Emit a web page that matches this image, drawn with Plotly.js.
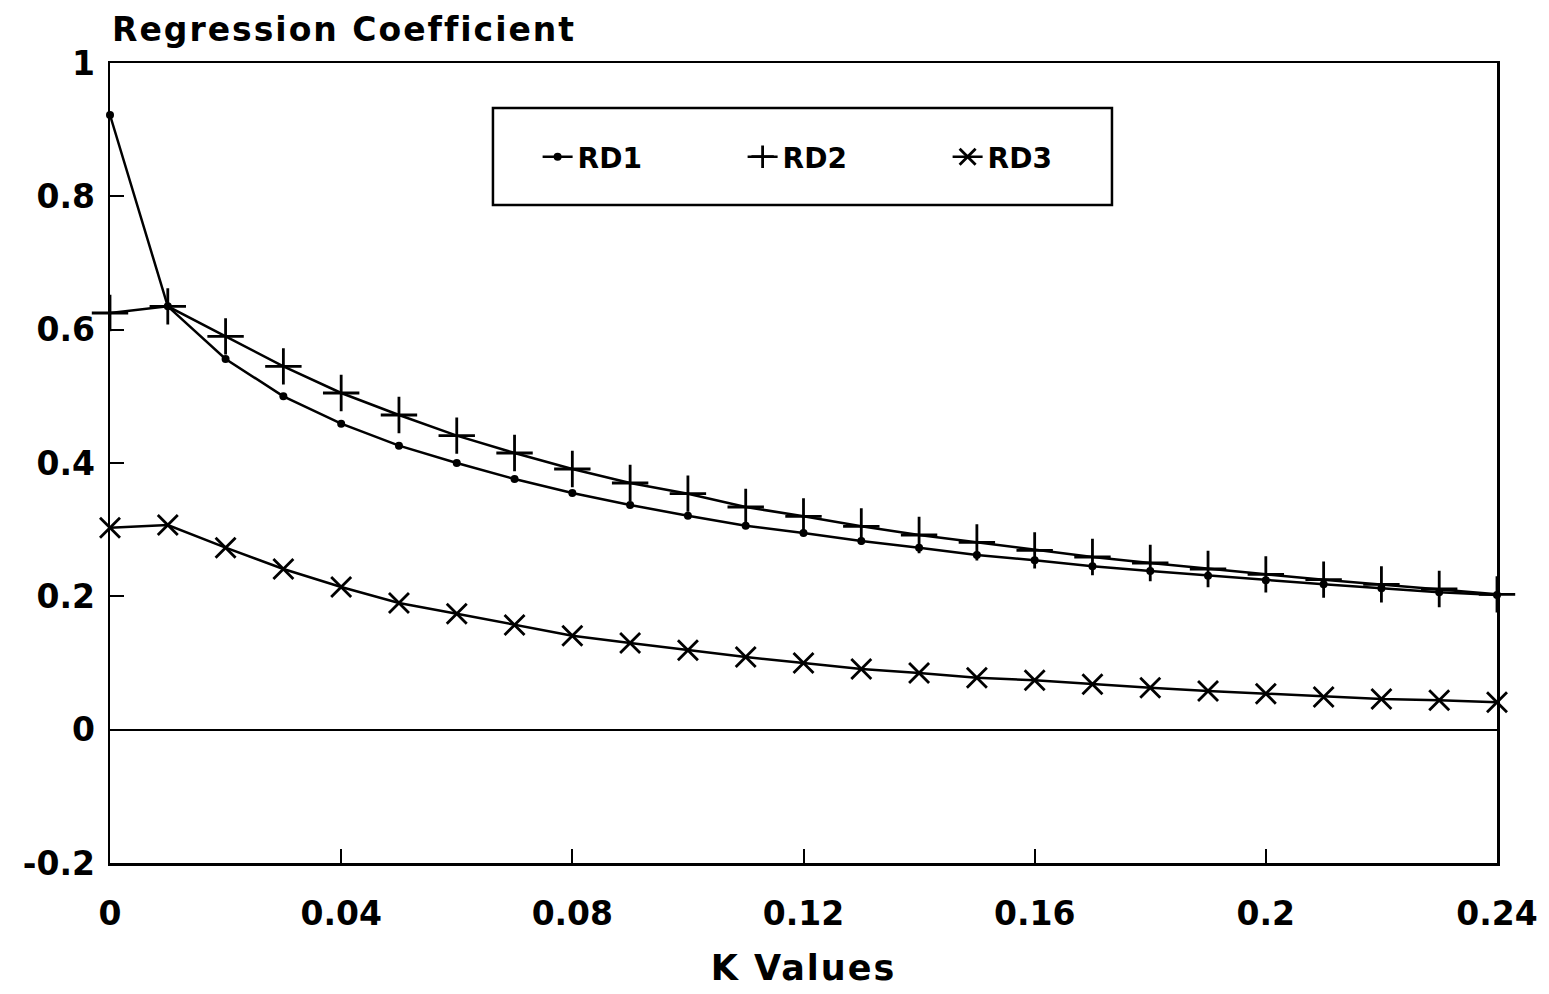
<!DOCTYPE html>
<html>
<head>
<meta charset="utf-8">
<script src="https://cdn.plot.ly/plotly-3.0.1.min.js"></script>
<style>html,body{margin:0;padding:0;background:#fff;}#chart{width:1549px;height:994px;}</style>
</head>
<body>
<div id="chart"></div>
<script>
const kValues = [0,0.01,0.02,0.03,0.04,0.05,0.06,0.07,0.08,0.09,0.10,0.11,0.12,0.13,0.14,0.15,0.16,0.17,0.18,0.19,0.20,0.21,0.22,0.23,0.24];
const rd1 = [0.922,0.635,0.556,0.500,0.459,0.426,0.400,0.376,0.355,0.337,0.321,0.306,0.295,0.283,0.273,0.262,0.254,0.245,0.238,0.231,0.224,0.218,0.212,0.206,0.202];
const rd2 = [0.625,0.635,0.590,0.545,0.505,0.472,0.441,0.415,0.391,0.370,0.354,0.334,0.320,0.305,0.292,0.281,0.269,0.259,0.250,0.241,0.233,0.225,0.218,0.211,0.203];
const rd3 = [0.303,0.307,0.273,0.241,0.214,0.190,0.174,0.157,0.141,0.130,0.119,0.109,0.100,0.091,0.085,0.078,0.074,0.068,0.063,0.058,0.054,0.049,0.046,0.044,0.041];
const seriesNames = ["RD1","RD2","RD3"];
const xTickVals = [0,0.04,0.08,0.12,0.16,0.2,0.24];
const xTickText = ["0","0.04","0.08","0.12","0.16","0.2","0.24"];
const yTickVals = [-0.2,0,0.2,0.4,0.6,0.8,1];
const yTickText = ["-0.2","0","0.2","0.4","0.6","0.8","1"];
const yTitle = "Regression Coefficient";
const xTitle = "K Values";

const FONT = "DejaVu Sans, Liberation Sans, Arial, sans-serif";
const lineStyle = {color:"#000", width:2.5};
const spaced = (t, px) => '<span style="letter-spacing:' + px + 'px">' + t + '</span>';

const traces = [
  {x:kValues, y:rd1, name:seriesNames[0], type:"scatter", mode:"lines+markers", cliponaxis:false,
   line:lineStyle, marker:{symbol:"circle", size:8, color:"#000"}},
  {x:kValues, y:rd2, name:seriesNames[1], type:"scatter", mode:"lines+markers", cliponaxis:false,
   line:lineStyle, marker:{symbol:"cross-thin-open", size:26, color:"#000", line:{color:"#000", width:2.8}}},
  {x:kValues, y:rd3, name:seriesNames[2], type:"scatter", mode:"lines+markers", cliponaxis:false,
   line:lineStyle, marker:{symbol:"x-thin-open", size:20, color:"#000", line:{color:"#000", width:2.8}}}
];

const layout = {
  width:1549, height:994,
  paper_bgcolor:"#fff", plot_bgcolor:"#fff",
  margin:{l:110, r:52, t:63, b:131},
  font:{family:FONT, color:"#000"},
  showlegend:true,
  legend:{orientation:"h", x:0.53, xanchor:"center", y:0.8825, yanchor:"middle",
          bgcolor:"rgba(0,0,0,0)", borderwidth:0,
          font:{family:FONT, size:28, weight:"bold", color:"#000"},
          entrywidth:160, entrywidthmode:"pixels"},
  shapes:[
    {type:"rect", xref:"paper", yref:"paper", x0:0.2761, x1:0.7224, y0:0.8225, y1:0.94375,
     line:{color:"#000", width:2.5}, fillcolor:"#fff", layer:"below"}
  ],
  annotations:[
    {text:spaced(yTitle, 2), xref:"paper", yref:"paper", x:0, y:1, xanchor:"left", yanchor:"bottom",
     yshift:12, showarrow:false, font:{family:FONT, size:33, weight:"bold", color:"#000"}}
  ],
  xaxis:{
    range:[0,0.24], tickvals:xTickVals, ticktext:xTickText,
    showline:true, linecolor:"#000", linewidth:2.5, mirror:true,
    ticks:"inside", ticklen:14, tickwidth:2, tickcolor:"#000",
    showgrid:false, zeroline:false,
    tickfont:{family:FONT, size:33, weight:"bold", color:"#000"},
    ticklabelstandoff:20,
    title:{text:spaced(xTitle, 2), font:{family:FONT, size:35, weight:"bold", color:"#000"}, standoff:24}
  },
  yaxis:{
    range:[-0.2,1], tickvals:yTickVals, ticktext:yTickText,
    showline:true, linecolor:"#000", linewidth:2.5, mirror:true,
    ticks:"inside", ticklen:14, tickwidth:2, tickcolor:"#000",
    showgrid:false, zeroline:true, zerolinecolor:"#000", zerolinewidth:2,
    tickfont:{family:FONT, size:33, weight:"bold", color:"#000"},
    ticklabelstandoff:6
  }
};

Plotly.newPlot("chart", traces, layout, {displayModeBar:false, staticPlot:true});
</script>
</body>
</html>
